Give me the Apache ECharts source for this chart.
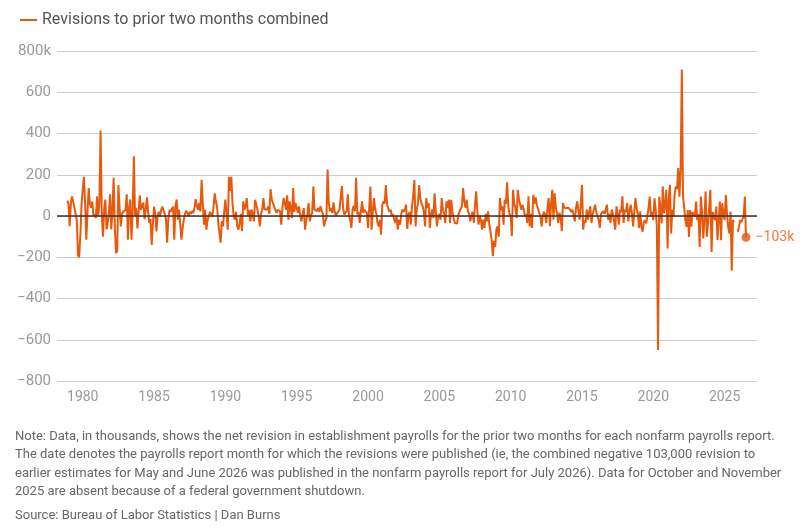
<!DOCTYPE html>
<html>
<head>
<meta charset="utf-8">
<title>Payroll revisions</title>
<script src="https://cdn.jsdelivr.net/npm/echarts@6/dist/echarts.min.js"></script>
<style>
  html, body { margin: 0; padding: 0; background: #fff; }
  #chart { width: 808px; height: 529px; }
</style>
</head>
<body>
<div id="chart"></div>
<script>
// net revision to the prior two months, thousands, one value per report month
// series starts Dec 1978; Oct/Nov 2025 missing (shutdown)
var startYear = 1978, startMonth = 11;

var rev1978_79 = [75,
  60, -50, 60, 95, 70, 40, 45, -20, -190, -200, -90, 55];

var rev1980s = [
  130, 190, 60, -115, 20, 135, 60, 40, 70, 0, 10, -10,
  95, 0, 60, 415, 15, -100, 30, 80, -65, -35, 20, 105,
  -65, 30, 185, -60, -180, -170, 150, 40, -50, 10, 20, 15,
  30, 105, -115, 40, 80, -115, 20, 290, 0, 40, -60, 20,
  100, 30, 50, 65, -15, 30, 90, 20, -35, -15, -140, -40,
  45, 10, -75, 0, 20, 0, 30, 45, 40, 10, -15, -130,
  -15, 30, 20, 35, 45, -115, 45, 80, -18, 30, -40, -115,
  -60, -18, 10, 25, 15, 0, 20, 10, 25, 15, 40, 82,
  50, 30, 63, 22, 175, 60, -42, 30, -66, -20, 0, 20,
  10, 0, 40, 110, 70, 45, -34, -80, -130, -26, -50, 20
];

var rev1990s = [
  79, 87, -66, 190, 120, 190, 60, 0, -18, 20, -50, -66,
  -34, 10, -74, 71, 30, 47, 87, 0, 30, -26, 31, 10,
  -26, 79, 79, 30, 0, -50, 10, 31, 87, 31, 40, 31,
  47, 10, 130, 80, 71, 47, 30, 15, 30, 23, 23, -42,
  40, 87, 63, 30, 100, -18, 71, 40, -10, 135, 20, 63,
  40, 15, 47, 0, -26, 10, 39, -66, -20, 7, 63, -26,
  0, 15, 143, 31, 40, 23, 39, 20, 47, 50, 10, -50,
  -26, -10, 225, 60, 23, 39, 15, 66, 20, 0, 15, 7,
  30, 23, 145, 40, 7, 0, 23, 105, 0, -20, -58, 31,
  50, 23, 185, 7, 20, -34, 23, 71, 15, 30, 39, 15
];

var rev2000s = [
  -58, 40, 143, -66, 20, 87, 31, 10, -34, -50, -20, -90,
  55, 71, 60, 150, 55, 39, 20, 31, 0, 10, -18, -34,
  0, -66, -18, -42, 10, 31, 20, 31, 55, -63, 7, 20,
  -42, 47, 100, 175, -50, 31, 60, 150, 87, 60, 47, 20,
  -50, 87, 40, 63, -58, 10, 31, -10, 110, 20, -50, 0,
  10, -18, 87, 31, 10, -34, 71, 40, 79, -34, 79, 20,
  -10, -34, -30, -37, 7, 23, 30, 47, 135, 71, 40, 79,
  23, 10, -26, 0, 20, -34, 55, 120, 20, -42, 0, -20,
  -66, -18, -58, 10, -26, 23, -40, -74, -115, -195, -120, -150,
  -66, -50, -100, 87, 30, 47, -42, 79, 60, 163, 47, 10
];

var rev2010s = [
  0, -98, 127, 60, 39, -10, 127, 80, 55, 30, 55, 31,
  0, 10, -34, 95, -50, 10, -58, 103, 60, 90, 55, 63,
  15, 0, -50, 0, 20, 7, -34, 40, 87, -50, 60, 127,
  -18, 110, 40, 15, -34, 15, 0, -74, 63, 40, 31, 39,
  30, 39, 31, 20, 31, 31, -26, 40, 71, 63, -18, 60,
  151, -66, -20, -34, 31, -18, 20, 47, -34, 10, 31, 55,
  20, 0, -18, -58, 10, 7, 23, 10, 15, 55, -18, 10,
  -34, 31, 10, -26, -66, 47, 10, -42, 31, 20, 95, -34,
  31, 20, 63, -26, 20, 55, 15, -50, 20, 87, 39, 10,
  -58, 23, -52, -76, -30, -20, -36, -3, 40, 94, -3, 20
];

var rev2020s = [
  -20, 86, 30, -52, -650, 94, 40, -36, 143, 13, 60, 127,
  -158, 78, 151, -85, 30, -3, 111, 143, 130, 232, 94, 224,
  710, 94, 40, -20, -52, 29, -101, 29, -52, 20, 13, -3,
  70, -20, 10, -150, 94, 20, -109, -20, 119, -101, -36, 40,
  127, -174, 20, -3, -20, 46, -117, -20, 70, -117, 62, 10,
  -20, 102, 13, -52, -85, 21, -265, -20, -30, null, null, -76,
  -55, -20, -30, -15, -5, 94, -103
];

var yearTicks = [1980, 1985, 1990, 1995, 2000, 2005, 2010, 2015, 2020, 2025];
var endLabel = '\u2212103k';

var noteLines = [
  'Note: Data, in thousands, shows the net revision in establishment payrolls for the prior two months for each nonfarm payrolls report.',
  'The date denotes the payrolls report month for which the revisions were published (ie, the combined negative 103,000 revision to',
  'earlier estimates for May and June 2026 was published in the nonfarm payrolls report for July 2026). Data for October and November',
  '2025 are absent because of a federal government shutdown.'
];
var sourceLine = 'Source: Bureau of Labor Statistics | Dan Burns';

var orange = '#e8590c';
var font = 'Roboto, "Liberation Sans", sans-serif';

var values = [].concat(rev1978_79, rev1980s, rev1990s, rev2000s, rev2010s, rev2020s);
var lineData = values.map(function (v, i) {
  return [startYear + (startMonth + i) / 12, v];
});
var last = lineData[lineData.length - 1];

function yFmt(v) {
  if (v === 800) return '800k';
  return v < 0 ? '\u2212' + Math.abs(v) : String(v);
}

var notes = noteLines.map(function (t, i) {
  return { type: 'text', left: 15, top: 430 + i * 18.4, style: { text: t, fill: '#666', font: '13px ' + font } };
});
notes.push({ type: 'text', left: 15, top: 509, style: { text: sourceLine, fill: '#666', font: '13px ' + font } });

var chart = echarts.init(document.getElementById('chart'));
chart.setOption({
  animation: false,
  textStyle: { fontFamily: font },
  legend: {
    left: 15,
    top: 7,
    icon: 'rect',
    itemWidth: 17,
    itemHeight: 2,
    textStyle: { color: '#555', fontSize: 16, fontFamily: font },
    data: ['Revisions to prior two months combined']
  },
  grid: { left: 57, right: 51, top: 51, bottom: 148 },
  xAxis: {
    type: 'value',
    min: 1978.195,
    max: 2027.27,
    axisLine: { show: false },
    axisTick: { show: false },
    splitLine: { show: false },
    axisLabel: {
      customValues: yearTicks,
      formatter: function (v) { return String(Math.round(v)); },
      color: '#999',
      fontSize: 14,
      margin: 9,
      fontFamily: font
    }
  },
  yAxis: {
    type: 'value',
    min: -800,
    max: 800,
    interval: 200,
    axisLine: { show: false },
    axisTick: { show: false },
    splitLine: { lineStyle: { color: '#cccccc', width: 1 } },
    axisLabel: { formatter: yFmt, color: '#999', fontSize: 15, margin: 6, fontFamily: font }
  },
  series: [
    {
      name: 'Revisions to prior two months combined',
      type: 'line',
      data: lineData,
      showSymbol: false,
      connectNulls: false,
      color: orange,
      lineStyle: { color: orange, width: 2 },
      z: 2
    },
    {
      type: 'scatter',
      data: [last],
      symbolSize: 9,
      itemStyle: { color: orange },
      label: {
        show: true,
        position: 'right',
        distance: 5,
        formatter: endLabel,
        color: orange,
        fontSize: 14,
        fontFamily: font
      },
      markLine: {
        silent: true,
        symbol: ['none', 'none'],
        label: { show: false },
        lineStyle: { color: '#333', width: 1.5, type: 'solid' },
        data: [{ yAxis: 0 }]
      },
      z: 3
    }
  ],
  graphic: notes
});
</script>
</body>
</html>
